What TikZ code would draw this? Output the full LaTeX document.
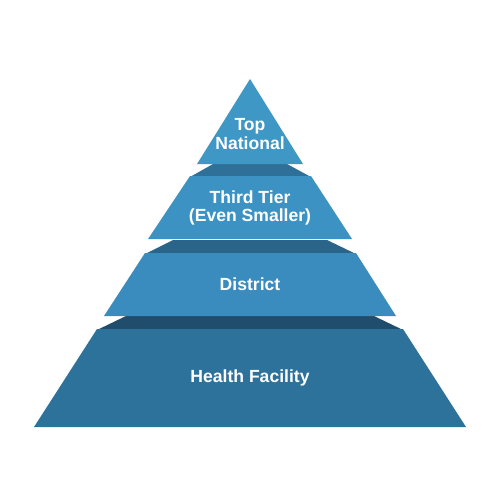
\documentclass[tikz,border=0pt]{standalone}
\usepackage{fontspec}
\setmainfont{Liberation Sans}
\usepackage{tikz}
\usepackage{xcolor}
\usetikzlibrary{positioning, calc}

\definecolor{niveauA}{HTML}{3F97C6}
\definecolor{niveauB}{HTML}{3C92C2}
\definecolor{niveauC}{HTML}{3A8CBE}
\definecolor{niveauD}{HTML}{2D729B}
\definecolor{faceA}{HTML}{2F7099}
\definecolor{faceB}{HTML}{2A6488}
\definecolor{faceC}{HTML}{1F4D6B}

\begin{document}
\begin{tikzpicture}[
    x=0.02cm, y=-0.02cm,
    tier/.style={line width=0pt},
    face/.style={line width=0pt},
    label/.style={text=white, font=\fontsize{10}{10.6}\selectfont\bfseries,
      align=center}
    ]

    \useasboundingbox (0,0) rectangle (500,500);

    % Faces superieures
    \fill[face, faceA] (213,164) -- (287,164) -- (311,177) -- (190,177) -- cycle;
    \fill[face, faceB] (173,240) -- (327,240) -- (356,254) -- (145,254) -- cycle;
    \fill[face, faceC] (126,316) -- (374,316) -- (403,330) -- (97,330) -- cycle;

    % Niveaux
    \fill[tier, niveauA] (250,79) -- (303,164) -- (197,164) -- cycle;
    \fill[tier, niveauB] (190,176) -- (311,176) -- (352,239) -- (148,239) -- cycle;
    \fill[tier, niveauC] (145,253) -- (356,253) -- (396,316) -- (104,316) -- cycle;
    \fill[tier, niveauD] (97,329) -- (403,329) -- (466,427) -- (34,427) -- cycle;

    % Textes
    \node[label] (Top) at (250,134) {Top\\National};
    \node[label] (ThirdTier) at (250,208) {Third Tier\\(Even Smaller)};
    \node[label] (District) at (250,284) {District};
    \node[label] (HealthFacility) at (250,378) {Health Facility};

  \end{tikzpicture}
\end{document}
